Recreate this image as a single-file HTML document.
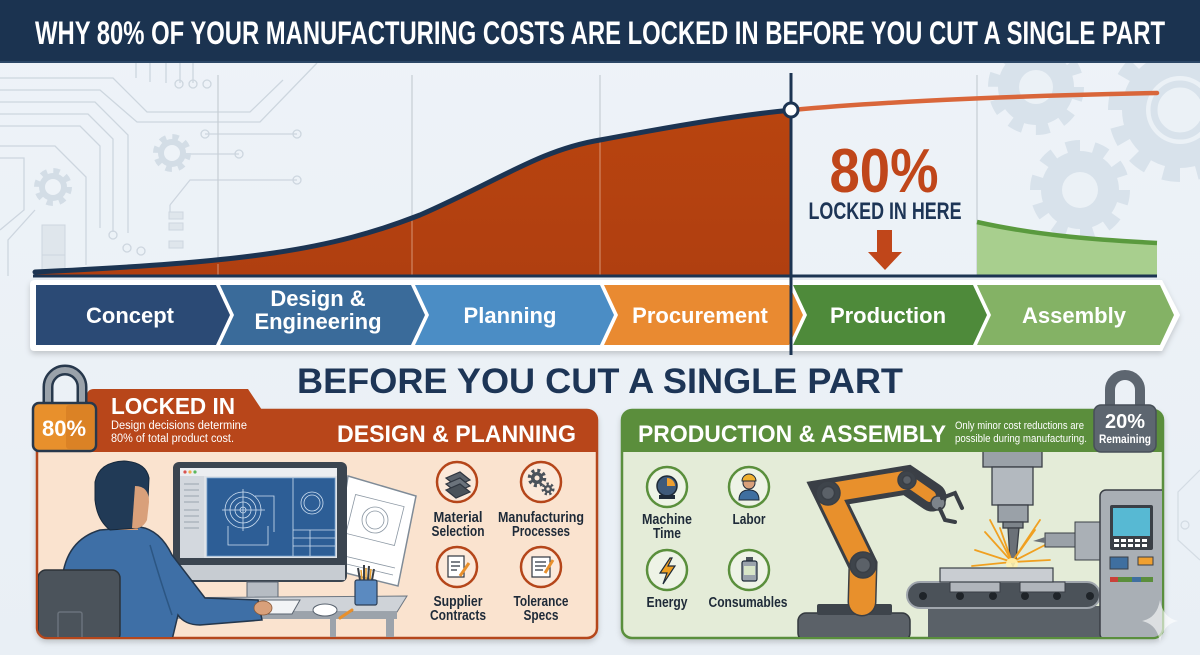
<!DOCTYPE html>
<html><head><meta charset="utf-8">
<style>
html,body{margin:0;padding:0;background:#edf2f7;}
svg{display:block;}
text{font-family:"Liberation Sans",Arial,sans-serif;}
.cond{font-family:"Liberation Sans Narrow","Liberation Sans",Arial,sans-serif;}
</style></head>
<body>
<svg width="1200" height="655" viewBox="0 0 1200 655" xmlns="http://www.w3.org/2000/svg">
<defs>
  <linearGradient id="bg" x1="0" y1="0" x2="0" y2="1">
    <stop offset="0" stop-color="#eef3f8"/><stop offset="1" stop-color="#e9eff5"/>
  </linearGradient>
  <linearGradient id="fillO" x1="0" y1="0" x2="0" y2="1">
    <stop offset="0" stop-color="#b8440f"/><stop offset="1" stop-color="#b03f10"/>
  </linearGradient>
  <clipPath id="clipL"><rect x="38" y="452" width="558" height="185" rx="9"/></clipPath>
  <clipPath id="clipR"><rect x="623" y="452" width="539" height="185" rx="9"/></clipPath>
  <filter id="sh" x="-5%" y="-5%" width="110%" height="120%"><feDropShadow dx="0" dy="3" stdDeviation="3" flood-color="#000" flood-opacity="0.18"/></filter>
</defs>

<rect width="1200" height="655" fill="url(#bg)"/>

<!-- circuit background left -->
<g fill="none" stroke="#cdd6df" stroke-width="1.3">
  <path d="M0,78 H113 L147,112 H250 L283,80"/>
  <path d="M0,90 H100 L137,122 H260 L317,63"/>
  <path d="M0,102 H95 L128,135 V233"/>
  <path d="M0,114 H88 L113,139 V232"/>
  <path d="M0,126 H80 L100,146 V228"/>
  <path d="M0,146 H55 L86,177 V265"/>
  <path d="M0,158 H24 V210 L0,230"/>
  <path d="M35,210 L8,240 V276"/>
  <path d="M170,205 L190,180 H297"/>
  <path d="M136,63 V78 M150,63 V82 M166,63 V83 M180,63 V83 M193,63 V83"/>
  <path d="M205,134 H297 M190,154 H239"/>
  <circle cx="113" cy="235" r="4"/><circle cx="127" cy="248" r="4"/><circle cx="141" cy="251" r="4"/>
  <circle cx="179" cy="84" r="4"/><circle cx="193" cy="84" r="4"/><circle cx="207" cy="84" r="4"/>
  <circle cx="205" cy="134" r="4"/><circle cx="297" cy="134" r="4"/><circle cx="239" cy="154" r="4"/><circle cx="297" cy="180" r="4"/>
  <path d="M170,205 V215"/>
</g>
<g fill="#dfe6ec" stroke="#cdd6df" stroke-width="1">
  <rect x="169" y="212" width="14" height="7"/><rect x="169" y="223" width="14" height="7"/><rect x="169" y="241" width="14" height="7"/>
  <rect x="42" y="225" width="23" height="30"/><rect x="42" y="255" width="23" height="20"/>
</g>
<g transform="translate(172,153)"><circle r="16" fill="none" stroke="#d3dde6" stroke-width="6" stroke-dasharray="6.3 6.3"/><circle r="14" fill="#d3dde6"/><circle r="8" fill="#eef3f8"/></g>
<g transform="translate(53,187)"><circle r="16" fill="none" stroke="#d3dde6" stroke-width="6" stroke-dasharray="6.3 6.3"/><circle r="14" fill="#d3dde6"/><circle r="8" fill="#eef3f8"/></g>

<!-- gears right -->
<g transform="translate(1036,87)"><circle r="42" fill="none" stroke="#d8e2eb" stroke-width="12" stroke-dasharray="13.2 13.2"/><circle r="38" fill="#d8e2eb"/><circle r="17" fill="#ebf1f6"/></g>
<g transform="translate(1180,110)"><circle r="64" fill="none" stroke="#d8e2eb" stroke-width="16" stroke-dasharray="16.75 16.75"/><circle r="58" fill="#d8e2eb"/><circle r="34" fill="#ebf1f6"/><circle r="26" fill="none" stroke="#d8e2eb" stroke-width="7"/></g>
<g transform="translate(1080,190)"><circle r="44" fill="none" stroke="#d8e2eb" stroke-width="12" stroke-dasharray="13.8 13.8"/><circle r="39" fill="#d8e2eb"/><circle r="18" fill="#ebf1f6"/></g>

<!-- grid lines -->
<g stroke="#c6cdd4" stroke-width="1.2">
  <line x1="218" y1="75" x2="218" y2="276"/>
  <line x1="412" y1="75" x2="412" y2="276"/>
  <line x1="600" y1="75" x2="600" y2="276"/>
  <line x1="977" y1="75" x2="977" y2="276"/>
</g>

<!-- orange curve fill -->
<path d="M35,272 C250,262 330,250 420,215 C500,180 540,150 600,140 C680,125 740,115 792,110 V276 H35 Z" fill="url(#fillO)"/>
<g stroke="#e8b8a0" stroke-width="1" opacity="0.7">
  <line x1="218" y1="264" x2="218" y2="276"/><line x1="412" y1="220" x2="412" y2="276"/><line x1="600" y1="141" x2="600" y2="276"/>
</g>
<path d="M35,272 C250,262 330,250 420,215 C500,180 540,150 600,140 C680,125 740,115 792,110" fill="none" stroke="#1c3452" stroke-width="5" stroke-linecap="round"/>
<!-- orange line after -->
<path d="M792,110 C900,100 1050,95 1157,93" fill="none" stroke="#d9663a" stroke-width="4.5" stroke-linecap="round"/>
<!-- green area -->
<path d="M977,222 C1040,236 1100,240 1157,243 V276 H977 Z" fill="#a8cf8e"/>
<path d="M977,222 C1040,236 1100,240 1157,243" fill="none" stroke="#5a9a3e" stroke-width="4.5"/>
<!-- baseline -->
<line x1="33" y1="276" x2="1157" y2="276" stroke="#1c3452" stroke-width="3"/>

<!-- 80% locked -->
<text x="884" y="192" font-size="62" font-weight="bold" fill="#c0461a" text-anchor="middle" textLength="109" lengthAdjust="spacingAndGlyphs" class="cond">80%</text>
<text x="885" y="219" font-size="24" font-weight="bold" fill="#1d3556" text-anchor="middle" textLength="153" lengthAdjust="spacingAndGlyphs" class="cond">LOCKED IN HERE</text>
<polygon points="877,230 892,230 892,252 902,252 885,270 868,252 877,252" fill="#c0461a"/>

<!-- chevrons container -->
<path d="M30,285 Q30,280 35,280 H1162 L1180,315 L1162,351 H35 Q30,351 30,346 Z" fill="#ffffff" filter="url(#sh)"/>
<path d="M36,285 H216 L230,315 L216,345 H36 Z" fill="#2b4a75"/>
<path d="M220,285 H411 L425,315 L411,345 H220 L234,315 Z" fill="#3a6b9a"/>
<path d="M415,285 H600 L614,315 L600,345 H415 L429,315 Z" fill="#4b8dc5"/>
<path d="M604,285 H789 L803,315 L789,345 H604 L618,315 Z" fill="#e98a31"/>
<path d="M793,285 H973 L987,315 L973,345 H793 L807,315 Z" fill="#4e8a3a"/>
<path d="M977,285 H1160 L1174,315 L1160,345 H977 L991,315 Z" fill="#84b265"/>
<g font-size="22" font-weight="bold" fill="#ffffff" text-anchor="middle">
  <text x="130" y="323">Concept</text>
  <text x="318" y="306">Design &amp;</text>
  <text x="318" y="329">Engineering</text>
  <text x="510" y="323">Planning</text>
  <text x="700" y="323">Procurement</text>
  <text x="888" y="323">Production</text>
  <text x="1074" y="323">Assembly</text>
</g>

<!-- vertical divider + marker -->
<line x1="791" y1="73" x2="791" y2="355" stroke="#1c3452" stroke-width="3"/>
<circle cx="791" cy="110" r="7" fill="#ffffff" stroke="#1c3452" stroke-width="3"/>

<!-- title bar -->
<rect x="0" y="0" width="1200" height="63" fill="#1b3350"/>
<rect x="0" y="61" width="1200" height="2" fill="#2c4766"/>
<text x="600" y="44" font-size="32" font-weight="bold" fill="#ffffff" text-anchor="middle" textLength="1130" lengthAdjust="spacingAndGlyphs" class="cond">WHY 80% OF YOUR MANUFACTURING COSTS ARE LOCKED IN BEFORE YOU CUT A SINGLE PART</text>

<!-- subtitle -->
<text x="600" y="393" font-size="35" font-weight="bold" fill="#1d3556" text-anchor="middle" textLength="606" lengthAdjust="spacingAndGlyphs">BEFORE YOU CUT A SINGLE PART</text>

<!-- LEFT PANEL -->
<rect x="37" y="410" width="560" height="228" rx="10" fill="#fae3cf" stroke="#b5461a" stroke-width="2.5" filter="url(#sh)"/>
<path d="M87,396 Q87,389 94,389 H248 L262,410 H587 Q597,410 597,420 V452 H37 V420 Q37,410 47,410 H87 Z" fill="#b8461a"/>
<text x="111" y="414" font-size="23" font-weight="bold" fill="#ffffff" textLength="124" lengthAdjust="spacingAndGlyphs">LOCKED IN</text>
<text x="111" y="429" font-size="11.5" fill="#ffffff" textLength="136" lengthAdjust="spacingAndGlyphs">Design decisions determine</text>
<text x="111" y="442" font-size="11.5" fill="#ffffff" textLength="123" lengthAdjust="spacingAndGlyphs">80% of total product cost.</text>
<text x="337" y="442" font-size="24" font-weight="bold" fill="#ffffff" textLength="239" lengthAdjust="spacingAndGlyphs">DESIGN &amp; PLANNING</text>

<!-- left lock -->
<path d="M48,406 V387 A17,17 0 0 1 82,387 V406" fill="none" stroke="#27384c" stroke-width="11"/>
<path d="M48,406 V387 A17,17 0 0 1 82,387 V406" fill="none" stroke="#9aa2aa" stroke-width="6"/>
<rect x="33" y="403" width="63" height="48" rx="6" fill="#e8902c" stroke="#27384c" stroke-width="2.5"/>
<rect x="66" y="405" width="28" height="44" rx="3" fill="#d27a22" opacity="0.6"/>
<text x="64" y="436" font-size="22" font-weight="bold" fill="#ffffff" text-anchor="middle">80%</text>

<!-- left illustration -->
<g clip-path="url(#clipL)">
  <polygon points="348,476 416,496 398,586 334,570" fill="#ffffff" stroke="#7f8b97" stroke-width="1.5"/>
  <g fill="none" stroke="#8a96a2" stroke-width="0.8">
    <circle cx="375" cy="520" r="13"/><circle cx="375" cy="520" r="9"/><rect x="350" y="500" width="50" height="40" transform="rotate(14 375 520)"/>
    <path d="M340,555 L395,568 M338,562 L393,575"/>
  </g>
  <rect x="173" y="462" width="174" height="120" rx="6" fill="#3b4550"/>
  <rect x="180" y="468" width="157" height="90" fill="#dfe3e8"/>
  <rect x="180" y="468" width="157" height="8" fill="#eceef1"/>
  <circle cx="185" cy="472" r="1.6" fill="#d9534f"/><circle cx="190" cy="472" r="1.6" fill="#f0ad4e"/><circle cx="195" cy="472" r="1.6" fill="#5cb85c"/>
  <rect x="180" y="476" width="24" height="82" fill="#d3d8de"/>
  <g stroke="#9aa3ad" stroke-width="1"><path d="M184,484 H199 M184,490 H199 M184,496 H199 M184,502 H199 M184,510 H199 M184,516 H199 M184,522 H199 M184,528 H199"/></g>
  <rect x="207" y="478" width="128" height="78" fill="#2d5e96" stroke="#6f9ac7" stroke-width="0.8"/>
  <g fill="none" stroke="#cfe0f2" stroke-width="0.8">
    <circle cx="243" cy="510" r="18"/><circle cx="243" cy="510" r="13"/><circle cx="243" cy="510" r="8"/><circle cx="243" cy="510" r="3"/>
    <path d="M222,510 H265 M243,489 V531 M228,526 V545 H268 V526 M255,496 H274 V532"/>
    <line x1="293" y1="478" x2="293" y2="556"/><circle cx="312" cy="503" r="11"/><circle cx="312" cy="503" r="8"/>
    <path d="M293,530 H335 M293,538 H335 M293,546 H335 M310,530 V556"/>
  </g>
  <rect x="175" y="565" width="170" height="15" fill="#c7ccd2"/>
  <rect x="247" y="582" width="31" height="16" fill="#b6bcc3" stroke="#5a6470" stroke-width="1"/>
  <polygon points="145,598 407,596 397,612 145,612" fill="#cfd3d8" stroke="#6d7782" stroke-width="1"/>
  <rect x="145" y="612" width="252" height="7" fill="#9ca3ab"/>
  <rect x="386" y="619" width="8" height="20" fill="#9ca3ab"/><rect x="330" y="619" width="6" height="20" fill="#9ca3ab"/>
  <polygon points="200,608 212,600 300,600 292,614 198,614" fill="#f2f4f6" stroke="#5a6470" stroke-width="1"/>
  <ellipse cx="325" cy="610" rx="12" ry="6" fill="#ffffff" stroke="#5a6470" stroke-width="1"/>
  <line x1="340" y1="618" x2="352" y2="610" stroke="#e8902c" stroke-width="3" stroke-linecap="round"/>
  <g stroke="#3a3f46" stroke-width="2"><line x1="360" y1="580" x2="358" y2="568"/><line x1="364" y1="580" x2="364" y2="565"/><line x1="368" y1="580" x2="369" y2="566"/><line x1="372" y1="580" x2="374" y2="569"/></g>
  <g stroke="#e8a030" stroke-width="1.5"><line x1="362" y1="580" x2="361" y2="570"/><line x1="366" y1="580" x2="366" y2="568"/><line x1="370" y1="580" x2="371" y2="569"/></g>
  <rect x="355" y="580" width="22" height="25" rx="2" fill="#5b8ac0" stroke="#2c3e55" stroke-width="1.2"/>
  <path d="M58,640 L62,580 Q66,540 100,530 L140,527 Q160,530 172,555 L205,598 L258,600 L262,620 L200,625 Q185,625 178,615 L172,640 Z" fill="#3e6fa6" stroke="#23364c" stroke-width="1.5"/>
  <path d="M150,545 Q160,580 172,615" fill="none" stroke="#2c5683" stroke-width="1.5"/>
  <rect x="112" y="516" width="26" height="14" fill="#d9a07a"/>
  <path d="M95,482 Q99,462 124,461 Q146,462 149,478 L148,500 Q146,520 138,528 L110,530 Q97,520 95,500 Z" fill="#213a56" stroke="#16283b" stroke-width="1"/>
  <path d="M135,486 Q149,486 149,502 L147,520 Q142,530 132,528 Z" fill="#d9a07a"/>
  <ellipse cx="263" cy="608" rx="9" ry="7" fill="#d9a07a" stroke="#8a5a3a" stroke-width="0.8"/>
  <rect x="38" y="570" width="82" height="72" rx="8" fill="#4b535b" stroke="#2c3238" stroke-width="1.5"/>
  <rect x="58" y="612" width="24" height="30" rx="2" fill="none" stroke="#6b737c" stroke-width="1.5"/>
</g>

<!-- left icons -->
<g fill="#fbe9da" stroke="#b5461a" stroke-width="2.5">
  <circle cx="457" cy="482" r="20"/><circle cx="541" cy="482" r="20"/><circle cx="457" cy="567" r="20"/><circle cx="541" cy="567" r="20"/>
</g>
<g stroke="#2f3640" stroke-width="1.2">
  <polygon points="446,478 460,472 470,480 456,486" fill="#5a626b"/>
  <polygon points="446,484 460,478 470,486 456,492" fill="#6b737c"/>
  <polygon points="446,490 460,484 470,492 456,498" fill="#4a525a"/>
</g>
<g transform="translate(537,478)"><circle r="7.5" fill="none" stroke="#4a525a" stroke-width="3.5" stroke-dasharray="3 2.9"/><circle r="6" fill="#4a525a"/><circle r="2.5" fill="#fbe9da"/></g>
<g transform="translate(548,489)"><circle r="5" fill="none" stroke="#4a525a" stroke-width="3" stroke-dasharray="2.2 2.2"/><circle r="4" fill="#4a525a"/><circle r="1.6" fill="#fbe9da"/></g>
<g stroke="#2f3640" stroke-width="1.2">
  <rect x="448" y="556" width="16" height="21" fill="#ffffff"/>
  <path d="M451,562 H460 M451,566 H460 M451,570 H457" fill="none"/>
  <line x1="460" y1="576" x2="469" y2="563" stroke="#e8902c" stroke-width="3"/>
  <rect x="532" y="557" width="18" height="20" fill="#ffffff"/>
  <path d="M535,562 H546 M535,566 H546 M535,570 H543" fill="none"/>
  <line x1="545" y1="573" x2="553" y2="560" stroke="#e8902c" stroke-width="3"/>
</g>
<g font-size="14.5" font-weight="bold" fill="#1e2a38" text-anchor="middle" class="cond">
  <text x="458" y="522" textLength="49" lengthAdjust="spacingAndGlyphs">Material</text>
  <text x="458" y="536" textLength="53" lengthAdjust="spacingAndGlyphs">Selection</text>
  <text x="541" y="522" textLength="86" lengthAdjust="spacingAndGlyphs">Manufacturing</text>
  <text x="541" y="536" textLength="58" lengthAdjust="spacingAndGlyphs">Processes</text>
  <text x="458" y="606" textLength="49" lengthAdjust="spacingAndGlyphs">Supplier</text>
  <text x="458" y="620" textLength="56" lengthAdjust="spacingAndGlyphs">Contracts</text>
  <text x="541" y="606" textLength="55" lengthAdjust="spacingAndGlyphs">Tolerance</text>
  <text x="541" y="620" textLength="35" lengthAdjust="spacingAndGlyphs">Specs</text>
</g>

<!-- RIGHT PANEL -->
<rect x="622" y="410" width="541" height="228" rx="10" fill="#e4ecd8" stroke="#5a8f3c" stroke-width="2.5" filter="url(#sh)"/>
<path d="M622,452 V420 Q622,410 632,410 H1153 Q1163,410 1163,420 V452 Z" fill="#5b8e3c"/>
<text x="638" y="442" font-size="24" font-weight="bold" fill="#ffffff" textLength="308" lengthAdjust="spacingAndGlyphs">PRODUCTION &amp; ASSEMBLY</text>
<text x="955" y="429" font-size="11" fill="#ffffff" textLength="129" lengthAdjust="spacingAndGlyphs" class="cond">Only minor cost reductions are</text>
<text x="955" y="442" font-size="11" fill="#ffffff" textLength="132" lengthAdjust="spacingAndGlyphs" class="cond">possible during manufacturing.</text>

<!-- right lock -->
<path d="M1110,408 V390 A15,15 0 0 1 1140,390 V408" fill="none" stroke="#5d6670" stroke-width="10"/>
<rect x="1094" y="405" width="62" height="47" rx="7" fill="#5d6670" stroke="#474f58" stroke-width="1.5"/>
<text x="1125" y="428" font-size="20" font-weight="bold" fill="#ffffff" text-anchor="middle">20%</text>
<text x="1125" y="443" font-size="12" font-weight="bold" fill="#ffffff" text-anchor="middle" textLength="52" lengthAdjust="spacingAndGlyphs" class="cond">Remaining</text>

<!-- right illustration -->
<g clip-path="url(#clipR)">
  <g stroke="#3a3f46" stroke-width="1.3">
    <rect x="983" y="445" width="59" height="22" fill="#9aa1a8"/>
    <rect x="992" y="467" width="41" height="38" fill="#b3b9bf"/>
    <rect x="998" y="505" width="30" height="17" fill="#9aa1a8"/>
    <rect x="1003" y="522" width="20" height="6" fill="#7d848b"/>
    <polygon points="1008,528 1019,528 1016,560 1013,566 1010,560" fill="#6b7178"/>
  </g>
  <g stroke="#f0a020" stroke-width="1.8" stroke-linecap="round">
    <line x1="1012" y1="562" x2="985" y2="532"/><line x1="1012" y1="562" x2="975" y2="550"/><line x1="1012" y1="562" x2="972" y2="566"/>
    <line x1="1012" y1="562" x2="1000" y2="528"/><line x1="1012" y1="562" x2="1035" y2="530"/><line x1="1012" y1="562" x2="1045" y2="545"/>
    <line x1="1012" y1="562" x2="1050" y2="560"/><line x1="1012" y1="562" x2="1040" y2="520"/><line x1="1012" y1="562" x2="990" y2="520"/>
  </g>
  <circle cx="1012" cy="564" r="6" fill="#fff3b0" opacity="0.9"/>
  <rect x="928" y="606" width="172" height="34" fill="#5a6168"/>
  <rect x="907" y="582" width="193" height="26" rx="13" fill="#4b5259" stroke="#a0a6ad" stroke-width="2"/>
  <g fill="#1f2429"><circle cx="923" cy="596" r="4"/><circle cx="960" cy="596" r="4"/><circle cx="993" cy="596" r="4"/><circle cx="1025" cy="596" r="4"/><circle cx="1057" cy="596" r="4"/><circle cx="1090" cy="596" r="4"/></g>
  <rect x="950" y="582" width="50" height="10" fill="#b0b5bb" stroke="#3a3f46" stroke-width="1"/>
  <rect x="1020" y="582" width="45" height="10" fill="#b0b5bb" stroke="#3a3f46" stroke-width="1"/>
  <rect x="940" y="568" width="113" height="14" fill="#c9cdd2" stroke="#3a3f46" stroke-width="1.2"/>
  <rect x="1045" y="533" width="32" height="14" fill="#9aa1a8" stroke="#3a3f46" stroke-width="1"/>
  <rect x="1075" y="522" width="25" height="38" fill="#aab0b6" stroke="#3a3f46" stroke-width="1"/>
  <polygon points="1045,537 1045,543 1033,541" fill="#6b7178"/>
  <rect x="1100" y="490" width="70" height="150" rx="6" fill="#a9afb5" stroke="#3a3f46" stroke-width="1.5"/>
  <rect x="1110" y="505" width="43" height="45" rx="2" fill="#3a3f46"/>
  <rect x="1113" y="508" width="37" height="28" fill="#57b9d3"/>
  <g fill="#ffffff"><rect x="1114" y="539" width="5" height="3"/><rect x="1121" y="539" width="5" height="3"/><rect x="1128" y="539" width="5" height="3"/><rect x="1135" y="539" width="5" height="3"/><rect x="1142" y="539" width="5" height="3"/><rect x="1114" y="544" width="5" height="3"/><rect x="1121" y="544" width="5" height="3"/><rect x="1128" y="544" width="5" height="3"/><rect x="1135" y="544" width="5" height="3"/><rect x="1142" y="544" width="5" height="3"/></g>
  <rect x="1110" y="557" width="18" height="12" fill="#3f6fa0" stroke="#3a3f46"/>
  <rect x="1138" y="557" width="15" height="8" fill="#f0a030" stroke="#3a3f46"/>
  <rect x="1110" y="577" width="43" height="5" fill="#5b8e3c"/><rect x="1110" y="577" width="8" height="5" fill="#c9413a"/><rect x="1132" y="577" width="9" height="5" fill="#3f6fa0"/>
  <rect x="798" y="613" width="112" height="28" rx="8" fill="#5b6168" stroke="#33383e" stroke-width="1.5"/>
  <rect x="817" y="604" width="75" height="11" rx="2" fill="#3e444b"/>
  <g stroke="#3a3f46" stroke-linecap="round" fill="none">
    <path d="M862,602 L863,565 L828,493 L907,480 L932,497" stroke-width="29"/>
  </g>
  <g stroke="#e8902c" stroke-linecap="round" fill="none">
    <path d="M862,602 L863,565" stroke-width="26"/>
    <path d="M863,565 L828,493" stroke-width="23"/>
    <path d="M828,493 L907,480" stroke-width="19"/>
    <path d="M907,480 L930,496" stroke-width="12"/>
  </g>
  <g stroke="#3a3f46" stroke-width="1.5">
    <circle cx="828" cy="493" r="12" fill="#3e444b"/><circle cx="828" cy="493" r="6.5" fill="#5b6168"/>
    <circle cx="863" cy="565" r="13" fill="#3e444b"/><circle cx="863" cy="565" r="7.5" fill="#5b6168"/>
    <circle cx="907" cy="480" r="9" fill="#3e444b"/><circle cx="907" cy="480" r="4.5" fill="#5b6168"/>
    <circle cx="938" cy="503" r="7" fill="#7d848b"/>
  </g>
  <g stroke="#3a3f46" stroke-width="4" fill="none" stroke-linecap="round">
    <path d="M942,498 L955,493 L962,508"/><path d="M940,509 L945,520 L955,522"/>
  </g>
</g>

<!-- right icons -->
<g fill="#eef3e6" stroke="#5a8f3c" stroke-width="2.5">
  <circle cx="667" cy="487" r="20"/><circle cx="749" cy="487" r="20"/><circle cx="667" cy="570" r="20"/><circle cx="749" cy="570" r="20"/>
</g>
<circle cx="667" cy="486" r="10" fill="#3f5a7a" stroke="#1e2a38" stroke-width="1.5"/>
<path d="M667,486 V478 A8,8 0 0 1 675,486 Z" fill="#f0a030"/>
<rect x="659" y="495" width="16" height="4" fill="#1e2a38"/>
<circle cx="749" cy="483" r="6" fill="#d9a07a" stroke="#1e2a38" stroke-width="1"/>
<path d="M742,481 A7,7 0 0 1 756,481 Z" fill="#f0b030" stroke="#1e2a38" stroke-width="1"/>
<path d="M739,500 Q739,490 749,490 Q759,490 759,500 Z" fill="#3f6fa0" stroke="#1e2a38" stroke-width="1"/>
<polygon points="670,558 660,573 667,573 663,584 675,566 668,566 672,558" fill="#f0a020" stroke="#1e2a38" stroke-width="1.2"/>
<rect x="746" y="557" width="7" height="4" fill="#4a525a"/>
<rect x="742" y="561" width="15" height="20" rx="2" fill="#9aa3ac" stroke="#1e2a38" stroke-width="1.2"/>
<rect x="744" y="566" width="11" height="9" fill="#d8e6c8"/>
<g font-size="14.5" font-weight="bold" fill="#1e2a38" text-anchor="middle" class="cond">
  <text x="667" y="524" textLength="50" lengthAdjust="spacingAndGlyphs">Machine</text>
  <text x="667" y="538" textLength="28" lengthAdjust="spacingAndGlyphs">Time</text>
  <text x="749" y="524" textLength="33" lengthAdjust="spacingAndGlyphs">Labor</text>
  <text x="667" y="607" textLength="41" lengthAdjust="spacingAndGlyphs">Energy</text>
  <text x="748" y="607" textLength="79" lengthAdjust="spacingAndGlyphs">Consumables</text>
</g>

<path d="M1160,600 Q1163,618 1178,621 Q1163,624 1160,642 Q1157,624 1142,621 Q1157,618 1160,600 Z" fill="#ffffff" opacity="0.6"/>
<g fill="none" stroke="#d3dbe3" stroke-width="1.2">
  <path d="M1200,470 L1178,492 V540 L1200,560"/><circle cx="1185" cy="525" r="4"/>
</g>
</svg>
</body></html>
